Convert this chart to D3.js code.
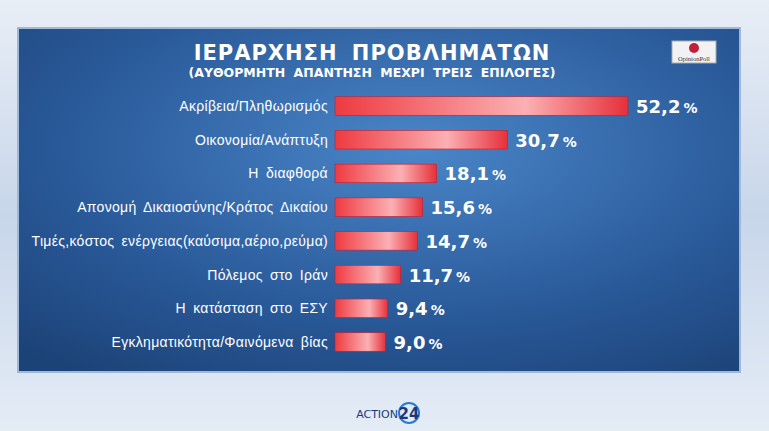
<!DOCTYPE html>
<html><head><meta charset="utf-8">
<script src="https://cdn.jsdelivr.net/npm/d3@7"></script>
<style>body{margin:0;overflow:hidden}</style></head>
<body><svg id="c" width="769" height="431"></svg>
<script>
const categories=["Ακρίβεια/Πληθωρισμός","Οικονομία/Ανάπτυξη","Η διαφθορά","Απονομή Δικαιοσύνης/Κράτος Δικαίου","Τιμές,κόστος ενέργειας(καύσιμα,αέριο,ρεύμα)","Πόλεμος στο Ιράν","Η κατάσταση στο ΕΣΥ","Εγκληματικότητα/Φαινόμενα βίας"];
const values=[52.2,30.7,18.1,15.6,14.7,11.7,9.4,9.0];
const labels=["52,2","30,7","18,1","15,6","14,7","11,7","9,4","9,0"];
const svg=d3.select("#c");
const defs=svg.append("defs");
const bg=defs.append("linearGradient").attr("id","bg").attr("x1",0).attr("y1",0).attr("x2",0).attr("y2",1);
bg.append("stop").attr("offset",0).attr("stop-color","#e8eef6");
bg.append("stop").attr("offset",0.5).attr("stop-color","#c8d6ea");
bg.append("stop").attr("offset",1).attr("stop-color","#e4ecf6");
svg.append("rect").attr("width",769).attr("height",431).attr("fill","url(#bg)");
const pg=defs.append("radialGradient").attr("id","pg").attr("cx",0.55).attr("cy",0.35).attr("r",0.8);
pg.append("stop").attr("offset",0).attr("stop-color","#4a86c8");
pg.append("stop").attr("offset",0.6).attr("stop-color","#2a5a9a");
pg.append("stop").attr("offset",1).attr("stop-color","#1c4378");
svg.append("rect").attr("x",18).attr("y",28).attr("width",722).attr("height",344).attr("fill","url(#pg)").attr("stroke","#9fb8d8").attr("stroke-width",2);
const bgr=defs.append("linearGradient").attr("id","bar").attr("x1",0).attr("y1",0).attr("x2",1).attr("y2",0);
bgr.append("stop").attr("offset",0).attr("stop-color","#ee3a40");
bgr.append("stop").attr("offset",0.65).attr("stop-color","#fbb0b4");
bgr.append("stop").attr("offset",1).attr("stop-color","#e6303a");
const F="'DejaVu Sans', 'Open Sans', sans-serif";
const L="'Liberation Sans', Arial, sans-serif";
svg.append("text").attr("x",372).attr("y",60).attr("text-anchor","middle").attr("fill","#fff").attr("font-family",F).attr("font-weight","bold").attr("font-size",21).attr("letter-spacing",1).attr("word-spacing",6).text("ΙΕΡΑΡΧΗΣΗ ΠΡΟΒΛΗΜΑΤΩΝ");
svg.append("text").attr("x",372).attr("y",77).attr("text-anchor","middle").attr("fill","#fff").attr("font-family",F).attr("font-weight","bold").attr("font-size",12.5).attr("word-spacing",4).text("(ΑΥΘΟΡΜΗΤΗ ΑΠΑΝΤΗΣΗ ΜΕΧΡΙ ΤΡΕΙΣ ΕΠΙΛΟΓΕΣ)");
svg.append("rect").attr("x",672).attr("y",41).attr("width",44).attr("height",22).attr("fill","#f2f2f4").attr("stroke","#aaa");
svg.append("circle").attr("cx",694).attr("cy",48).attr("r",5).attr("fill","#c0203a");
svg.append("text").attr("x",694).attr("y",61).attr("text-anchor","middle").attr("font-size",6.5).attr("font-family","Liberation Serif").attr("fill","#333").text("OpinionPoll");
const x=d3.scaleLinear().domain([0,52.2]).range([335,628]);
const y=d3.scaleBand().domain(categories).range([90,358]).paddingInner(0.45).paddingOuter(0.2);
const g=svg.selectAll("g.r").data(categories).join("g");
g.append("rect").attr("x",x(0)).attr("y",d=>y(d)).attr("height",y.bandwidth()).attr("width",(d,i)=>x(values[i])-x(0)).attr("fill","url(#bar)").attr("stroke","#c02030").attr("stroke-width",0.6);
g.append("text").attr("x",328).attr("y",d=>y(d)+y.bandwidth()/2+5).attr("text-anchor","end").attr("fill","#fff").attr("font-family",L).attr("font-size",14).attr("letter-spacing",0.3).attr("word-spacing",3).text(d=>d);
const t=g.append("text").attr("x",(d,i)=>x(values[i])+8).attr("y",d=>y(d)+y.bandwidth()/2+7).attr("fill","#fff").attr("font-family",F).attr("font-weight","bold").attr("font-size",18);
t.append("tspan").text((d,i)=>labels[i]);
t.append("tspan").attr("font-size",14).attr("dx",3).text("%");
svg.append("text").attr("x",398).attr("y",418).attr("text-anchor","end").attr("fill","#1a3a7a").attr("font-family",F).attr("font-size",11).text("ACTION");
svg.append("circle").attr("cx",409).attr("cy",413).attr("r",10).attr("fill","none").attr("stroke","#2a7ad0").attr("stroke-width",2);
svg.append("text").attr("x",409).attr("y",419).attr("text-anchor","middle").attr("fill","#1a3a7a").attr("font-family",F).attr("font-weight","bold").attr("font-size",15).text("24");
</script></body></html>
